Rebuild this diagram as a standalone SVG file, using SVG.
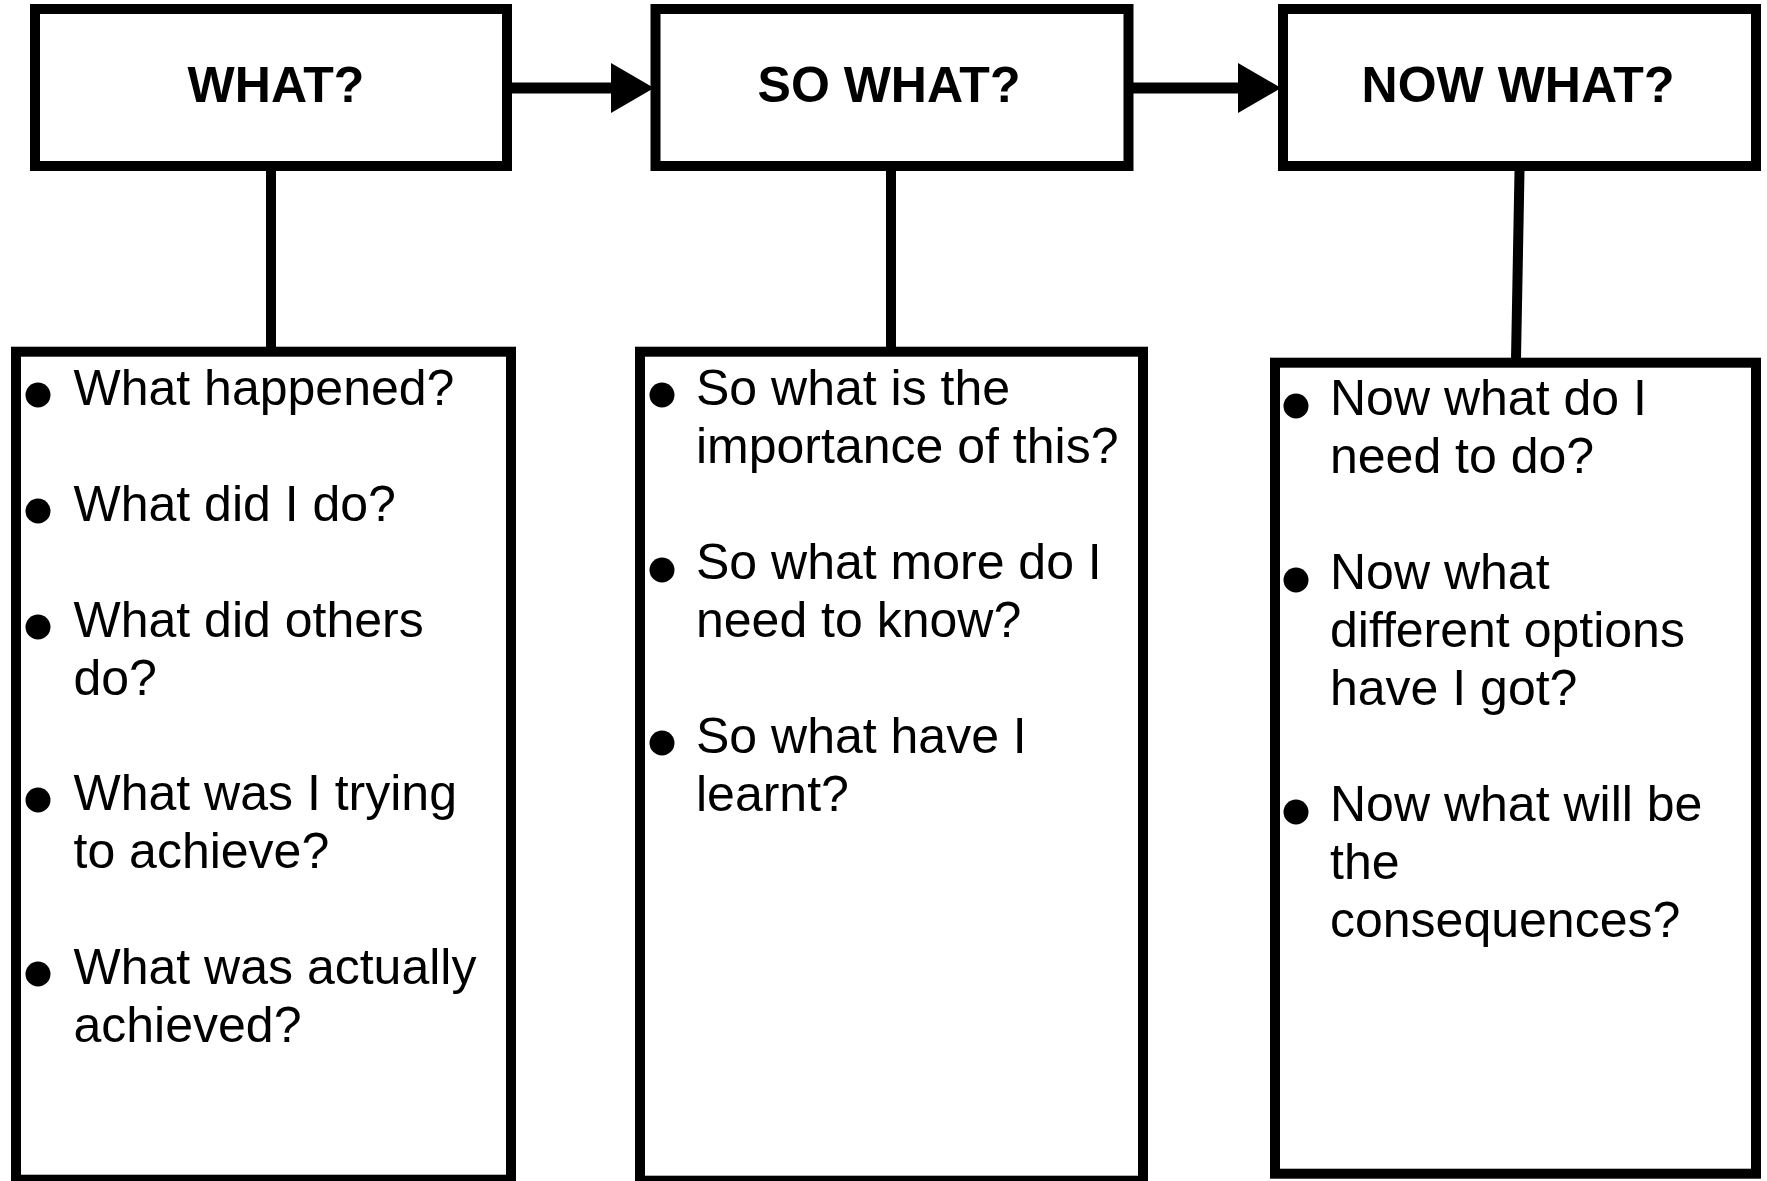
<svg xmlns="http://www.w3.org/2000/svg" width="1767" height="1181" viewBox="0 0 1767 1181">
  <style>
    .box { fill: #ffffff; stroke: #000000; stroke-width: 10; }
    .title { font-family: "Liberation Sans", Arial, Helvetica, sans-serif; font-weight: bold; font-size: 50px; fill: #000000; text-anchor: middle; }
    .item { font-family: "Liberation Sans", Arial, Helvetica, sans-serif; font-size: 50px; fill: #000000; }
    .dot { fill: #000000; }
    .link { stroke: #000000; stroke-width: 10; fill: none; }
    .flow { stroke: #000000; stroke-width: 11; fill: none; marker-end: url(#head); }
  </style>
  <defs>
    <marker id="head" markerUnits="userSpaceOnUse" markerWidth="43" markerHeight="50" viewBox="0 0 43 50" refX="9" refY="25" orient="auto">
      <path d="M0,0 L43,25 L0,50 Z" fill="#000000"/>
    </marker>
  </defs>

  <rect width="1767" height="1181" fill="#ffffff"/>

  <!-- connectors -->
  <g id="connectors">
    <path class="flow" d="M512,88 L620,88"/>
    <path class="flow" d="M1133,88 L1247,88"/>
    <path class="link" d="M271,171 L271,348"/>
    <path class="link" d="M891,171 L891,348"/>
    <path class="link" d="M1519.5,171 L1516,359"/>
  </g>

  <!-- header boxes -->
  <g id="what">
    <rect class="box" x="35" y="9" width="472" height="157"/>
    <text class="title" x="276" y="102">WHAT?</text>
  </g>
  <g id="so-what">
    <rect class="box" x="655.5" y="9" width="473" height="157"/>
    <text class="title" x="889" y="102">SO WHAT?</text>
  </g>
  <g id="now-what">
    <rect class="box" x="1283" y="9" width="473" height="157"/>
    <text class="title" x="1518" y="102">NOW WHAT?</text>
  </g>

  <!-- question lists -->
  <g id="what-questions">
    <rect class="box" x="16" y="351.7" width="495" height="828"/>
    <circle class="dot" cx="38" cy="395" r="12.5"/>
    <circle class="dot" cx="38" cy="511" r="12.5"/>
    <circle class="dot" cx="38" cy="627" r="12.5"/>
    <circle class="dot" cx="38" cy="800" r="12.5"/>
    <circle class="dot" cx="38" cy="974" r="12.5"/>
    <text class="item" x="73.5" y="405">What happened?</text>
    <text class="item" x="73.5" y="521">What did I do?</text>
    <text class="item" x="73.5" y="637">What did others</text>
    <text class="item" x="73.5" y="695">do?</text>
    <text class="item" x="73.5" y="810">What was I trying</text>
    <text class="item" x="73.5" y="868">to achieve?</text>
    <text class="item" x="73.5" y="984">What was actually</text>
    <text class="item" x="73.5" y="1042">achieved?</text>
  </g>
  <g id="so-what-questions">
    <rect class="box" x="640" y="351.7" width="503" height="829"/>
    <circle class="dot" cx="662" cy="395" r="12.5"/>
    <circle class="dot" cx="662" cy="570" r="12.5"/>
    <circle class="dot" cx="662" cy="743" r="12.5"/>
    <text class="item" x="696" y="405">So what is the</text>
    <text class="item" x="696" y="463">importance of this?</text>
    <text class="item" x="696" y="579">So what more do I</text>
    <text class="item" x="696" y="637">need to know?</text>
    <text class="item" x="696" y="753">So what have I</text>
    <text class="item" x="696" y="811">learnt?</text>
  </g>
  <g id="now-what-questions">
    <rect class="box" x="1275" y="362.7" width="481" height="811"/>
    <circle class="dot" cx="1296" cy="406" r="12.5"/>
    <circle class="dot" cx="1296" cy="580" r="12.5"/>
    <circle class="dot" cx="1296" cy="812" r="12.5"/>
    <text class="item" x="1330" y="415">Now what do I</text>
    <text class="item" x="1330" y="473">need to do?</text>
    <text class="item" x="1330" y="589">Now what</text>
    <text class="item" x="1330" y="647">different options</text>
    <text class="item" x="1330" y="705">have I got?</text>
    <text class="item" x="1330" y="821">Now what will be</text>
    <text class="item" x="1330" y="879">the</text>
    <text class="item" x="1330" y="937">consequences?</text>
  </g>
</svg>
